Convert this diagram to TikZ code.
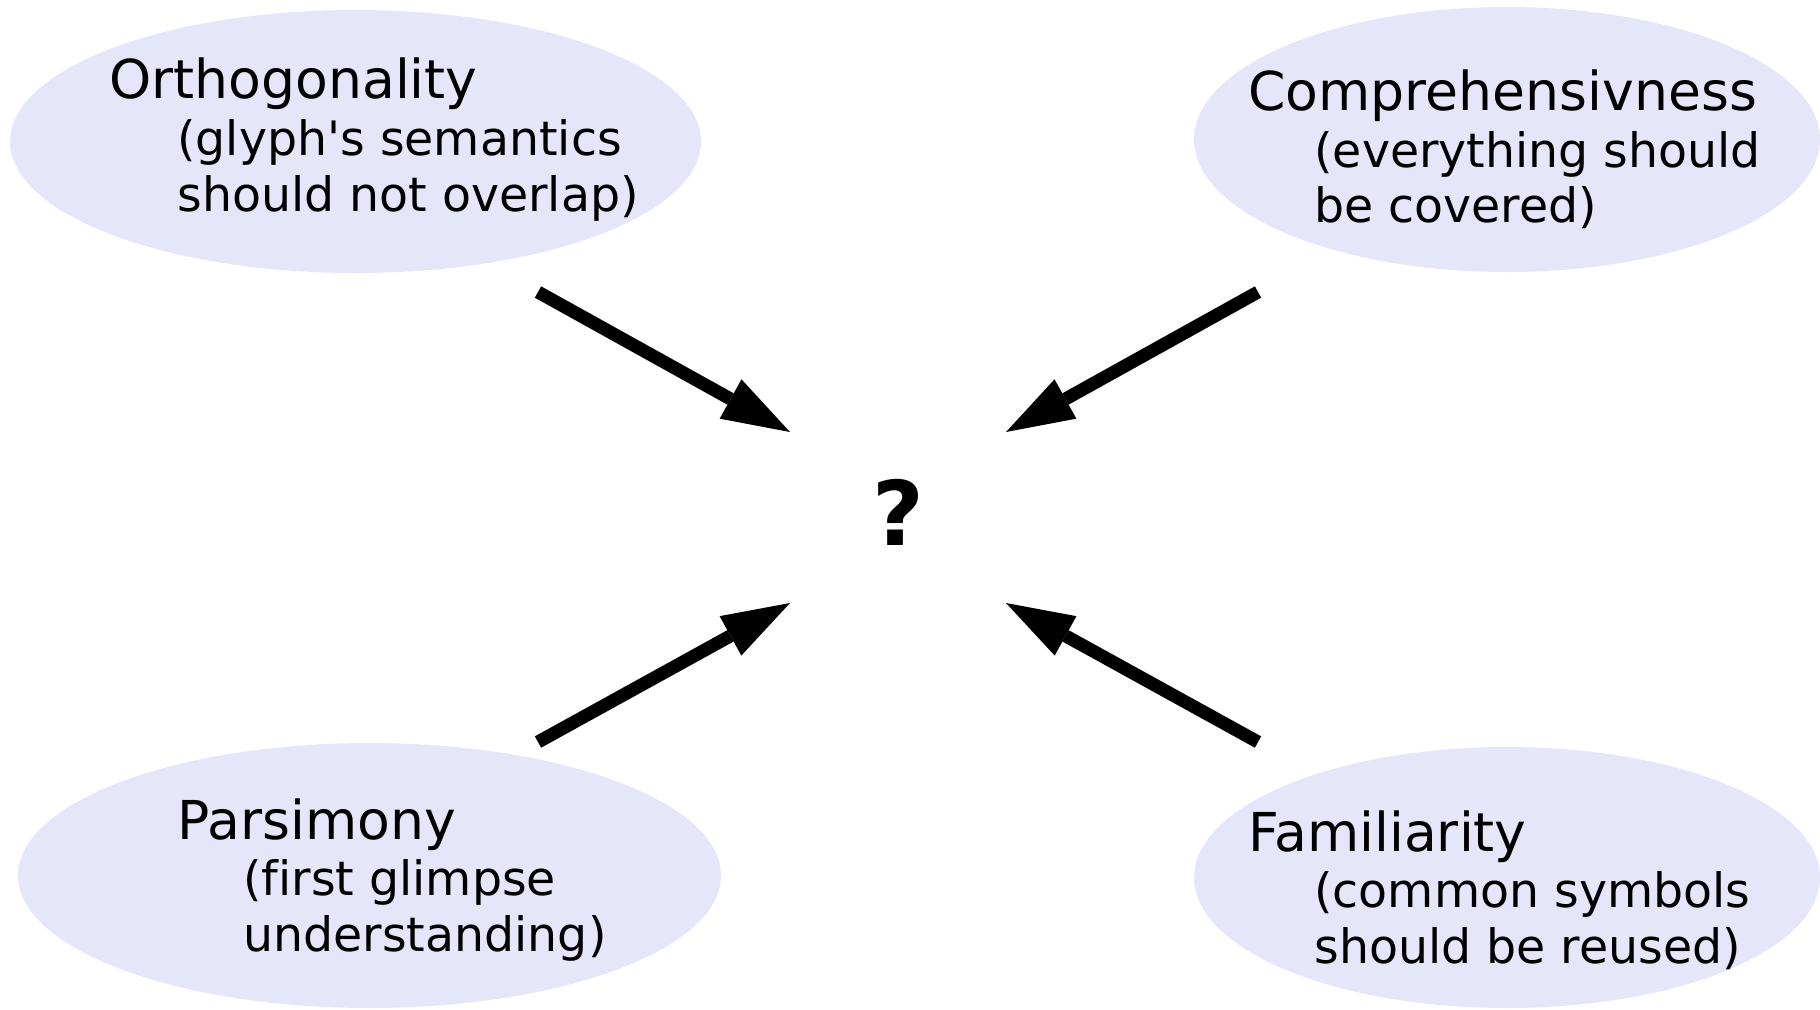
\documentclass[tikz,border=0pt]{standalone}
\usepackage{fontspec}
\setmainfont{DejaVu Sans}[Ligatures=NoCommon]
\usetikzlibrary{arrows.meta,shapes.geometric}
\definecolor{bubblefill}{RGB}{230,230,250}
\tikzset{
  bubble/.style={ellipse, fill=bubblefill, draw=none, inner sep=0pt, outer sep=0pt},
  headline/.style={anchor=base west, inner sep=0pt, font=\fontsize{26.8pt}{32pt}\selectfont},
  subline/.style={anchor=base west, inner sep=0pt, font=\fontsize{23.7pt}{28pt}\selectfont},
  push/.style={line width=6.5pt, -{Triangle[length=34pt,width=22.5pt,line width=0pt]}},
}
\begin{document}
\begin{tikzpicture}[x=0.5pt,y=-0.5pt]
\useasboundingbox (0,0) rectangle (1820,1009);

% four principle bubbles
\node[bubble, minimum width=345.5pt, minimum height=131.5pt] (orth) at (355.5,141.5) {};
\node[bubble, minimum width=313pt,   minimum height=132.5pt] (comp) at (1507,139.5) {};
\node[bubble, minimum width=351.5pt, minimum height=132.5pt] (pars) at (369.5,875.5) {};
\node[bubble, minimum width=313pt,   minimum height=130.5pt] (fami) at (1507,877.5) {};

% bubble texts
\node[headline] (orthT) at (109,98)  {Orthogonality};
\node[subline]  (orthA) at (177,155) {(glyph\textquotesingle s semantics};
\node[subline]  (orthB) at (177,211) {should not overlap)};

\node[headline] (compT) at (1248,110) {Comprehensivness};
\node[subline]  (compA) at (1314,167) {(everything should};
\node[subline]  (compB) at (1314,222) {be covered)};

\node[headline] (parsT) at (177,839) {Parsimony};
\node[subline]  (parsA) at (243,895) {(first glimpse};
\node[subline]  (parsB) at (243,951) {understanding)};

\node[headline] (famiT) at (1248,851) {Familiarity};
\node[subline]  (famiA) at (1314,907) {(common symbols};
\node[subline]  (famiB) at (1314,963) {should be reused)};

% the open question in the middle
\node[anchor=base, inner sep=0pt, font=\bfseries\fontsize{44.6pt}{50pt}\selectfont] (q) at (898,545) {?};

% arrow ends
\coordinate (orthS) at (538,292);
\coordinate (orthE) at (790,432);
\coordinate (compS) at (1258,292);
\coordinate (compE) at (1006,432);
\coordinate (parsS) at (538,742);
\coordinate (parsE) at (790,603);
\coordinate (famiS) at (1258,742);
\coordinate (famiE) at (1006,603);

\draw[push] (orthS) -- (orthE);
\draw[push] (compS) -- (compE);
\draw[push] (parsS) -- (parsE);
\draw[push] (famiS) -- (famiE);
\end{tikzpicture}
\end{document}
